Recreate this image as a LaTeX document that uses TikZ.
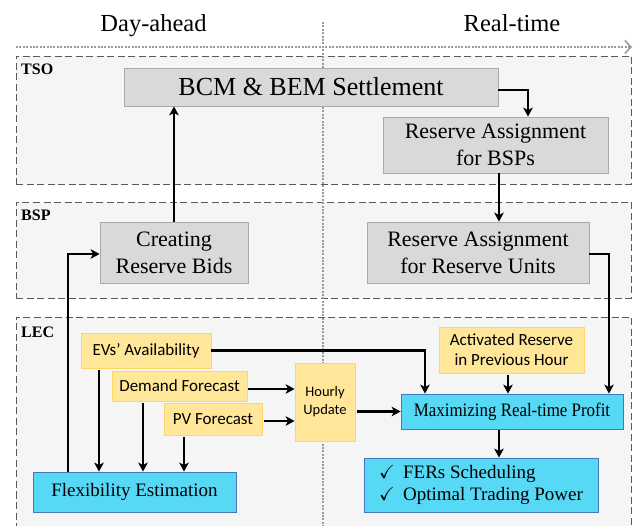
\documentclass[tikz,border=0pt]{standalone}
\usepackage{fontspec}
\usepackage{amssymb}
\usepackage{graphicx}
\setmainfont{Liberation Serif}
\newfontfamily\calib{Carlito}
\usetikzlibrary{arrows.meta}
\definecolor{grpfill}{RGB}{245,245,245}
\definecolor{grpline}{RGB}{90,90,90}
\definecolor{gbox}{RGB}{217,217,217}
\definecolor{gboxline}{RGB}{170,170,170}
\definecolor{ybox}{RGB}{255,230,153}
\definecolor{yboxline}{RGB}{255,214,102}
\definecolor{cbox}{RGB}{87,216,245}
\definecolor{cboxline}{RGB}{70,120,190}
\definecolor{dotgray}{RGB}{155,155,155}
\begin{document}
\begin{tikzpicture}[x=1pt,y=-1pt,
  grp/.style={draw=grpline, fill=grpfill, dash pattern=on 7pt off 3.5pt, line width=0.9pt, inner sep=0pt, rectangle},
  grplabel/.style={font=\fontsize{16}{18}\selectfont\bfseries, anchor=west, inner sep=0pt},
  hdr/.style={font=\fontsize{24.5}{28}\selectfont, anchor=base, inner sep=0pt},
  graybox/.style={draw=gboxline, fill=gbox, line width=0.8pt, inner sep=0pt, align=center, font=\fontsize{22}{27}\selectfont},
  yelbox/.style={draw=yboxline, fill=ybox, line width=0.8pt, inner sep=0pt, align=center, font=\calib\fontsize{17}{20}\selectfont},
  cyanbox/.style={draw=cboxline, fill=cbox, line width=0.8pt, inner sep=0pt, align=center, font=\fontsize{19}{22}\selectfont},
  arr/.style={-{Stealth[length=9pt,width=9.5pt,inset=2.5pt]}, line width=2.1pt, black},
  dotline/.style={dotgray, line width=2pt, dash pattern=on 2pt off 1.4pt},
]
\useasboundingbox (0,0) rectangle (635,526);

% headers
\node[hdr] (da) at (153.5,32) {Day-ahead};
\node[hdr] (rt) at (512,32) {Real-time};
\coordinate (hs) at (16,47);
\coordinate (he) at (632,47);
\draw[dotline, -{Straight Barb[length=6pt,width=13pt,line width=1.6pt]}] (hs) -- (he);

% groups
\node[grp, minimum width=615pt, minimum height=128pt] (tso) at (323.5,120) {};
\node[grp, minimum width=615pt, minimum height=96pt] (bsp) at (323.5,250) {};
\node[grp, minimum width=615pt, minimum height=223pt] (lec) at (323.5,428.5) {};
\node[grplabel] (tsol) at (21,69) {TSO};
\node[grplabel] (bspl) at (21,215) {BSP};
\node[grplabel] (lecl) at (21,332) {LEC};

% vertical dotted divider
\coordinate (vt) at (323,22);
\coordinate (vb) at (323,526);
\draw[dotline] (vt) -- (vb);

% TSO
\node[graybox, minimum width=374pt, minimum height=38pt, font=\fontsize{26}{30}\selectfont] (bcm) at (311,87) {BCM \& BEM Settlement};
\node[graybox, minimum width=225pt, minimum height=56pt] (rab) at (495.5,145) {Reserve Assignment\\for BSPs};

% BSP
\node[graybox, minimum width=148pt, minimum height=61pt] (crb) at (174,252.5) {Creating\\Reserve Bids};
\node[graybox, minimum width=222pt, minimum height=61pt] (rau) at (478,252.5) {Reserve Assignment\\for Reserve Units};

% LEC
\node[yelbox, minimum width=130pt, minimum height=35pt] (evs) at (146,350.5) {EVs’ Availability};
\node[yelbox, minimum width=135pt, minimum height=30pt] (dem) at (179.5,386) {Demand Forecast};
\node[yelbox, minimum width=98pt, minimum height=32pt] (pv) at (213,419) {PV Forecast};
\node[yelbox, minimum width=60pt, minimum height=78pt, font=\calib\fontsize{14.5}{18}\selectfont] (hu) at (325,402) {Hourly\\Update};
\node[cyanbox, minimum width=203pt, minimum height=40pt] (flex) at (134.5,492) {Flexibility Estimation};
\node[yelbox, minimum width=145pt, minimum height=46pt] (act) at (511.5,350) {Activated Reserve\\in Previous Hour};
\node[cyanbox, minimum width=222pt, minimum height=35pt] (max) at (512,411.5) {\scalebox{0.89}[1]{Maximizing Real-time Profit}};
\node[cyanbox, minimum width=234pt, minimum height=54pt, align=left] (fers) at (481,485) {\makebox[24pt][l]{\checkmark}FERs Scheduling\\\makebox[24pt][l]{\checkmark}Optimal Trading Power};

% connectors
\draw[arr] ([yshift=-3pt]bcm.east) -| ([xshift=32.5pt]rab.north);
\draw[arr] (crb.north) -- (crb.north |- bcm.south);
\draw[arr] ([xshift=3.5pt]rab.south) -- ([xshift=3.5pt]rab.south |- rau.north);
\draw[arr] ([yshift=-1.5pt]rau.east) -| ([xshift=97pt]max.north);
\draw[arr] ([xshift=-66.5pt]flex.north) |- ([yshift=-1.5pt]crb.west);
\draw[arr] (evs.east) -| ([xshift=-87pt]max.north);
\draw[arr, shorten <=2pt] ([xshift=-47pt]evs.south) -- ([xshift=-47pt]evs.south |- flex.north);
\draw[arr, shorten <=2pt] ([xshift=-36.5pt]dem.south) -- ([xshift=-36.5pt]dem.south |- flex.north);
\draw[arr, shorten <=2pt] ([xshift=-29pt]pv.south) -- ([xshift=-29pt]pv.south |- flex.north);
\draw[arr, shorten <=1pt] ([yshift=-3pt]dem.east) -- ([yshift=-3pt]dem.east -| hu.west);
\draw[arr, shorten <=2pt] ([yshift=-2pt]pv.east) -- ([yshift=-2pt]pv.east -| hu.west);
\draw[arr, shorten <=2pt] (hu.east |- max.west) -- (max.west);
\draw[arr, shorten <=2pt] ([xshift=-3.5pt]act.south) -- ([xshift=-3.5pt]act.south |- max.north);
\draw[arr, shorten <=1pt] ([xshift=-13pt]max.south) -- ([xshift=-13pt]max.south |- fers.north);
\end{tikzpicture}
\end{document}
